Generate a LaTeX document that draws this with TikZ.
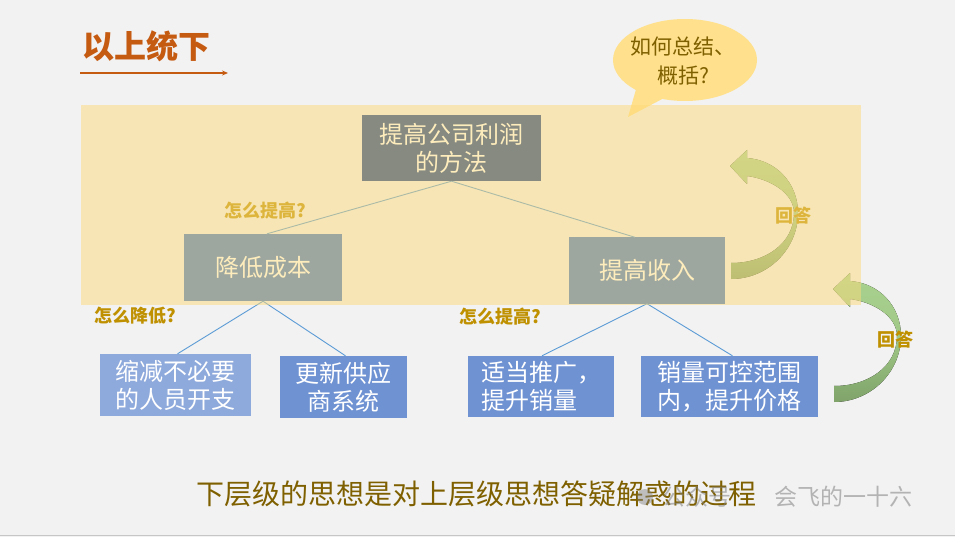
\documentclass[tikz,border=0pt]{standalone}
\usepackage{fontspec}
\setmainfont{Noto Sans CJK SC}
\usetikzlibrary{arrows.meta}
\definecolor{bgc}{HTML}{F2F2F2}
\definecolor{titlec}{HTML}{C55A11}
\definecolor{bubblec}{HTML}{FFE08C}
\definecolor{bubbletxt}{HTML}{7F6000}
\definecolor{hlc}{HTML}{FCDA7A}
\definecolor{topbox}{HTML}{103A8A}
\definecolor{midbox}{HTML}{4074C6}
\definecolor{lowbox}{HTML}{6F92D2}
\definecolor{lowboxa}{HTML}{8EA9DB}
\definecolor{linec}{HTML}{5B9BD5}
\definecolor{qc}{HTML}{BF9000}
\definecolor{ga}{HTML}{A9D18E}
\definecolor{gb}{HTML}{7FA36A}
\definecolor{sumc}{HTML}{7F6000}
\tikzset{
  boxnode/.style={rectangle, inner sep=0pt, text=white, align=center,
    font=\fontsize{24}{28}\selectfont},
  qlabel/.style={text=qc, inner sep=0pt, font=\fontsize{18}{20}\selectfont\bfseries},
  conn/.style={draw=linec, line width=0.9pt},
  bend arrow/.style={top color=ga, bottom color=gb, middle color=ga!80!gb},
}
\begin{document}
\begin{tikzpicture}[x=1pt,y=-1pt]
\useasboundingbox (0,0) rectangle (955,537);
\fill[bgc] (0,0) rectangle (955,537);
\draw[gray!45, line width=1.5pt] (0,535.5) -- (955,535.5);

% title
\node[text=titlec, inner sep=0pt, font=\fontsize{32}{36}\selectfont\bfseries] (title) at (146,46) {以上统下};
\coordinate (ta) at (80,73);
\coordinate (tb) at (228,73);
\draw[titlec, line width=1.3pt, -{Stealth[length=6pt,width=5pt]}] (ta) -- (tb);

% boxes
\node[boxnode, fill=topbox, minimum width=179pt, minimum height=66pt] (top) at (451.5,148) {提高公司利润\\的方法};
\node[boxnode, fill=midbox, minimum width=158pt, minimum height=67pt] (b1) at (263,267.5) {降低成本};
\node[boxnode, fill=midbox, minimum width=156pt, minimum height=66pt] (b2) at (647,270.5) {提高收入};
\node[boxnode, fill=lowboxa, minimum width=151pt, minimum height=62pt] (c1) at (175.5,385) {缩减不必要\\的人员开支};
\node[boxnode, fill=lowbox, minimum width=127pt, minimum height=62pt] (c2) at (343.5,387) {更新供应\\商系统};
\node[boxnode, fill=lowbox, minimum width=146pt, minimum height=61pt, align=left] (c3) at (541,386.5) {适当推广，\\提升销量};
\node[boxnode, fill=lowbox, minimum width=177pt, minimum height=61pt] (c4) at (729.5,386.5) {销量可控范围\\内，提升价格};

% connectors
\draw[conn] (top.south) -- ([xshift=4pt]b1.north);
\draw[conn] (top.south) -- ([xshift=-12pt]b2.north);
\draw[conn] (b1.south) -- ([xshift=2pt]c1.north);
\draw[conn] (b1.south) -- ([xshift=2pt]c2.north);
\draw[conn] (b2.south) -- ([xshift=1pt]c3.north);
\draw[conn] (b2.south) -- ([xshift=3pt]c4.north);

% labels
\node[qlabel] (q1) at (265,211) {怎么提高?};
\node[qlabel] (q2) at (135,316) {怎么降低?};
\node[qlabel] (q3) at (500,317) {怎么提高?};

% curved arrows
\fill[bend arrow] (731,279) .. controls (768,279) and (798,249) .. (798,213)
  .. controls (798,183) and (776,160) .. (747,158) -- (747,150) -- (730,166)
  -- (747,184) -- (747,176) .. controls (770,179) and (794,193) .. (794,213)
  .. controls (794,243) and (766,263) .. (731,263) -- cycle;
\begin{scope}[shift={(103,123)}]
\fill[bend arrow] (731,279) .. controls (768,279) and (798,249) .. (798,213)
  .. controls (798,183) and (776,160) .. (747,158) -- (747,150) -- (730,166)
  -- (747,184) -- (747,176) .. controls (770,179) and (794,193) .. (794,213)
  .. controls (794,243) and (766,263) .. (731,263) -- cycle;
\end{scope}
\node[qlabel] (a1) at (793,216) {回答};
\node[qlabel] (a2) at (895,340) {回答};

% speech bubble
\fill[bubblec] (685,60) ellipse [x radius=72, y radius=41];
\fill[bubblec] (637,86) -- (628,117) -- (666,97) -- cycle;
\node[text=bubbletxt, align=center, inner sep=0pt, font=\fontsize{21}{29}\selectfont] (bq) at (683,61) {如何总结、\\概括?};

% highlight overlay
\fill[hlc, opacity=0.5] (81,105) rectangle (861,305);

% summary
\node[text=sumc, inner sep=0pt, font=\fontsize{28}{30}\selectfont] (sum) at (476,494) {下层级的思想是对上层级思想答疑解惑的过程};

% watermark
\fill[gray, opacity=0.45] (645,497) circle (8);
\node[text=gray, opacity=0.55, inner sep=0pt, font=\fontsize{23}{26}\selectfont] (wm1) at (697,497) {公众号};
\node[text=gray, opacity=0.55, inner sep=0pt, font=\fontsize{23}{26}\selectfont] (wm2) at (843,497) {会飞的一十六};
\end{tikzpicture}
\end{document}
